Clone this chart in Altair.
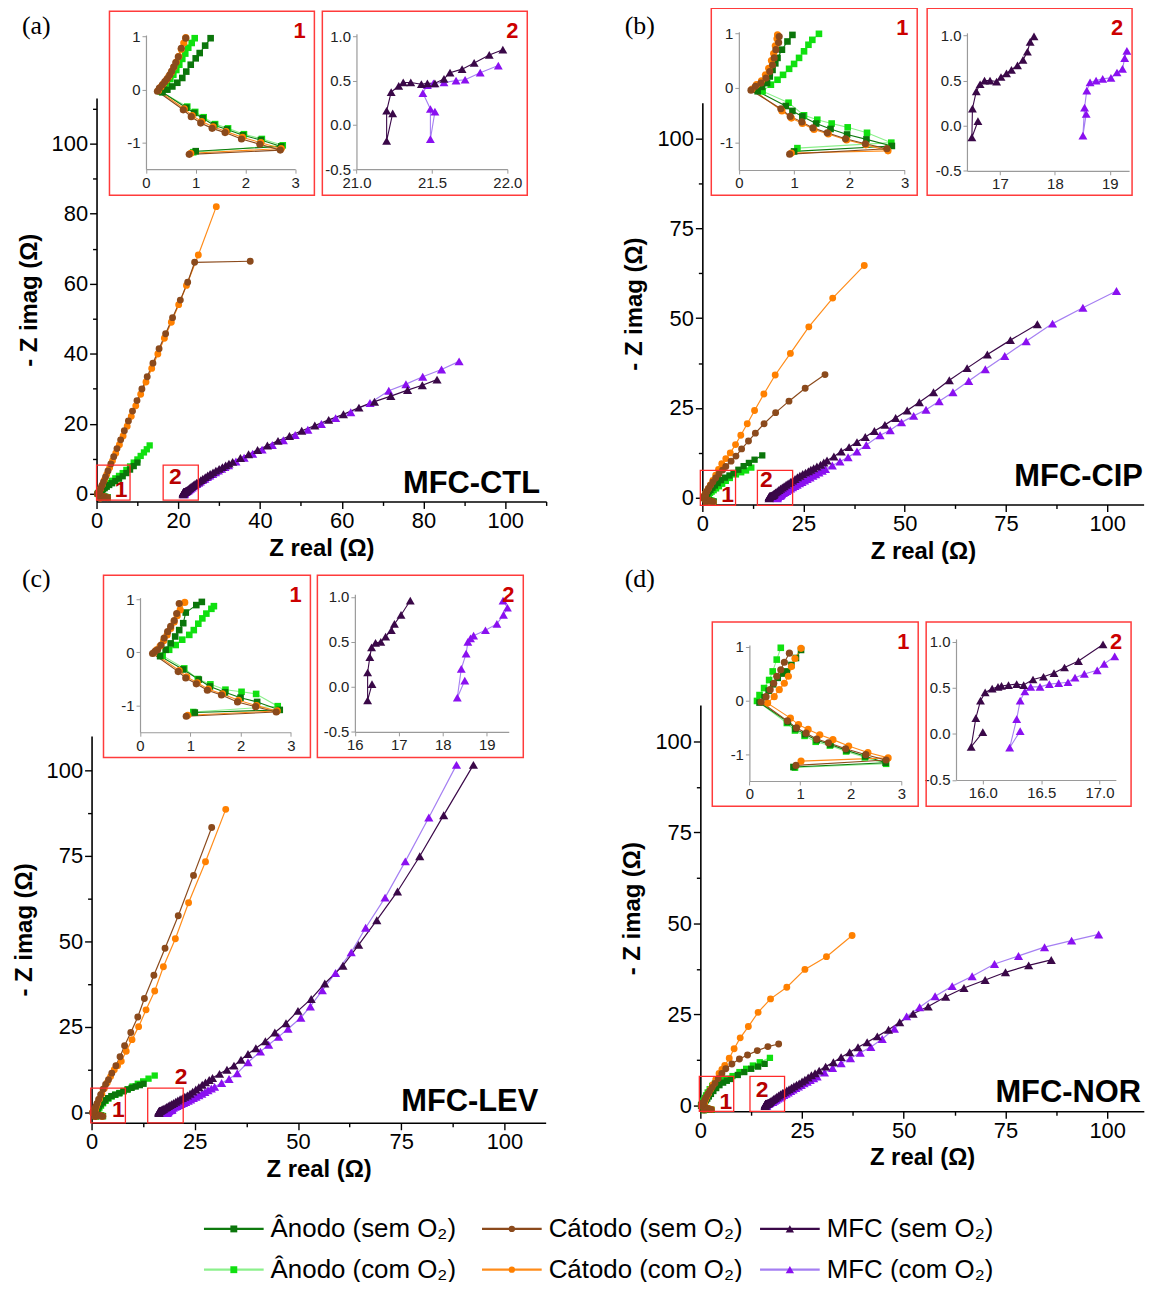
import altair as alt
import pandas as pd

M = 8
W, H = 1144, 1274

AN_SEM, AN_COM = "Ânodo (sem O₂)", "Ânodo (com O₂)"
CAT_SEM, CAT_COM = "Cátodo (sem O₂)", "Cátodo (com O₂)"
MFC_SEM, MFC_COM = "MFC (sem O₂)", "MFC (com O₂)"
SERIES = [AN_SEM, AN_COM, CAT_SEM, CAT_COM, MFC_SEM, MFC_COM]
LINE_COLORS = ["#0e7a0e", "#8cf08c", "#8b4a1c", "#ff8c1a", "#3a0848", "#a57ff2"]
MARK_COLORS = ["#0b760b", "#10e010", "#8b4a1c", "#ff8000", "#3a0848", "#8a10f0"]
SHAPES = ["square", "square", "circle", "circle", "triangle-up", "triangle-up"]
GROUPS = [[AN_SEM, AN_COM], [CAT_SEM, CAT_COM], [MFC_SEM, MFC_COM]]

# ---------------- panel (a) MFC-CTL ----------------
a_an_sem_in = [(1.0,-1.16),(2.72,-1.07),(2.31,-0.95),(1.95,-0.86),(1.63,-0.75),(1.37,-0.67),(1.14,-0.54),(0.97,-0.44),(0.81,-0.34),(0.33,-0.05),(0.43,0.0),(0.53,0.06),(0.63,0.13),(0.73,0.22),(0.81,0.34),(0.9,0.47),(1.0,0.59),(1.08,0.69),(1.19,0.83),(1.3,0.97)]
a_an_com_in = [(0.95,-1.18),(2.75,-1.05),(2.33,-0.93),(1.97,-0.84),(1.65,-0.73),(1.39,-0.65),(1.16,-0.52),(0.99,-0.42),(0.83,-0.32),(0.3,-0.04),(0.36,0.04),(0.42,0.12),(0.49,0.2),(0.55,0.28),(0.61,0.37),(0.67,0.47),(0.73,0.58),(0.79,0.68),(0.85,0.79),(0.92,0.88),(0.98,0.97)]
a_cat_sem_in = [(0.87,-1.22),(2.7,-1.14),(2.29,-1.03),(1.92,-0.93),(1.59,-0.81),(1.33,-0.73),(1.1,-0.63),(0.91,-0.51),(0.75,-0.38),(0.23,-0.03),(0.27,0.03),(0.33,0.09),(0.38,0.15),(0.43,0.21),(0.48,0.28),(0.52,0.35),(0.56,0.43),(0.6,0.51),(0.65,0.62),(0.71,0.78),(0.8,0.97)]
a_cat_com_in = [(0.9,-1.2),(2.72,-1.11),(2.31,-1.0),(1.94,-0.9),(1.61,-0.79),(1.35,-0.7),(1.12,-0.6),(0.93,-0.49),(0.77,-0.36),(0.25,-0.02),(0.3,0.05),(0.35,0.11),(0.41,0.18),(0.46,0.25),(0.51,0.33),(0.56,0.42),(0.61,0.52),(0.66,0.63),(0.71,0.76),(0.76,0.88),(0.8,0.98)]
a_mfc_sem_in = [(21.24,0.13),(21.2,-0.18),(21.2,0.16),(21.23,0.37),(21.28,0.44),(21.31,0.48),(21.36,0.48),(21.43,0.46),(21.47,0.47),(21.52,0.47),(21.58,0.52),(21.62,0.59),(21.7,0.63),(21.78,0.7),(21.88,0.79),(21.97,0.85)]
a_mfc_com_in = [(21.52,0.15),(21.49,-0.16),(21.49,0.18),(21.44,0.36),(21.47,0.45),(21.51,0.47),(21.58,0.48),(21.66,0.5),(21.72,0.51),(21.82,0.59),(21.94,0.67)]
a_an_sem = [(1.6,1.25),(2.0,1.6),(2.5,2.0),(3.1,2.5),(3.8,3.0),(4.6,3.6),(5.5,4.3),(6.4,5.0),(7.3,5.9),(8.2,6.9),(9.1,7.9),(10.0,8.9)]
a_an_com = [(1.1,1.1),(1.3,1.35),(1.6,1.7),(2.0,2.1),(2.5,2.6),(3.1,3.1),(3.8,3.7),(4.6,4.4),(5.5,5.1),(6.4,5.9),(7.3,6.8),(8.2,7.8),(9.1,8.9),(10.0,9.8),(10.8,10.8),(11.6,11.8),(12.3,12.7),(13.0,13.8)]
a_cat_sem = [(1.0,1.5),(1.3,2.3),(1.7,3.4),(2.2,4.8),(2.8,6.5),(3.5,8.5),(4.2,10.6),(5.0,12.9),(5.9,15.4),(6.8,18.0),(7.8,20.8),(8.8,23.6),(9.9,26.6),(11.1,29.9),(12.4,33.4),(13.8,37.3),(15.3,41.4),(16.9,45.7),(18.6,50.3),(20.5,55.3),(22.3,60.4),(24.0,66.1),(37.6,66.4)]
a_cat_com = [(1.0,1.4),(1.4,2.5),(1.9,3.9),(2.5,5.5),(3.2,7.4),(3.9,9.4),(4.7,11.6),(5.6,14.0),(6.5,16.5),(7.5,19.3),(8.5,22.1),(9.6,25.1),(10.8,28.4),(12.1,31.9),(13.5,35.8),(15.0,39.9),(16.6,44.4),(18.3,49.0),(20.1,54.0),(22.0,59.5),(24.9,68.2),(29.3,82.0)]
a_mfc_sem = [(22.1,0.95),(22.3,1.15),(22.55,1.4),(22.8,1.65),(23.1,1.95),(23.4,2.2),(23.75,2.5),(24.1,2.8),(24.5,3.15),(25.0,3.5),(25.5,3.9),(26.0,4.3),(26.6,4.75),(27.2,5.2),(27.8,5.65),(28.5,6.1),(29.2,6.6),(30.0,7.1),(30.8,7.6),(31.6,8.1),(32.4,8.6),(33.3,9.1),(35.2,10.2),(37.2,11.3),(39.4,12.5),(41.8,13.8),(44.4,15.1),(47.2,16.5),(50.2,18.0),(53.4,19.5),(56.8,21.1),(60.4,22.7),(64.2,24.6),(68.0,26.3),(72.0,27.9),(76.1,29.6),(79.7,31.0),(83.3,32.6)]
a_mfc_com = [(22.2,0.8),(22.5,1.0),(22.75,1.25),(23.0,1.5),(23.35,1.8),(23.7,2.1),(24.1,2.45),(24.5,2.8),(24.95,3.15),(25.4,3.5),(25.9,3.9),(26.5,4.3),(27.1,4.75),(27.7,5.2),(28.4,5.65),(29.1,6.1),(29.8,6.6),(30.6,7.1),(31.4,7.6),(32.3,8.1),(34.1,9.2),(36.1,10.3),(38.2,11.4),(40.5,12.6),(43.0,13.9),(45.7,15.3),(48.6,16.8),(51.7,18.3),(55.0,19.9),(58.5,21.6),(62.2,23.3),(66.9,25.9),(71.5,29.4),(75.7,31.3),(79.8,33.4),(84.4,35.5),(88.7,37.8)]

# ---------------- panel (b) MFC-CIP ----------------
b_cat_sem_in = [(0.92,-1.21),(2.68,-1.11),(2.29,-1.02),(1.93,-0.93),(1.6,-0.82),(1.34,-0.73),(1.14,-0.62),(0.93,-0.52),(0.76,-0.38),(0.22,-0.04),(0.3,0.03),(0.4,0.09),(0.49,0.18),(0.56,0.3),(0.61,0.42),(0.64,0.55),(0.67,0.7),(0.72,0.83),(0.73,0.94)]
b_cat_com_in = [(0.95,-1.19),(2.7,-1.15),(2.3,-1.04),(1.95,-0.95),(1.62,-0.84),(1.36,-0.76),(1.15,-0.65),(0.95,-0.55),(0.78,-0.42),(0.24,-0.02),(0.32,0.06),(0.41,0.13),(0.48,0.24),(0.54,0.36),(0.59,0.5),(0.63,0.63),(0.66,0.77),(0.69,0.9),(0.7,0.97)]
b_an_sem_in = [(1.0,-1.16),(2.77,-1.06),(2.31,-0.94),(1.96,-0.85),(1.66,-0.75),(1.4,-0.65),(1.15,-0.52),(0.97,-0.42),(0.85,-0.33),(0.34,-0.06),(0.42,0.02),(0.51,0.09),(0.56,0.21),(0.61,0.33),(0.66,0.45),(0.7,0.55),(0.78,0.7),(0.88,0.85),(0.97,0.97)]
b_an_com_in = [(1.06,-1.1),(2.76,-1.0),(2.32,-0.82),(1.97,-0.72),(1.68,-0.65),(1.42,-0.58),(1.18,-0.5),(0.9,-0.27),(0.43,-0.06),(0.58,0.06),(0.7,0.15),(0.8,0.24),(0.91,0.35),(1.0,0.44),(1.09,0.55),(1.18,0.67),(1.26,0.79),(1.33,0.88),(1.45,0.99)]
b_mfc_sem_in = [(16.6,0.05),(16.49,-0.13),(16.5,0.19),(16.57,0.38),(16.64,0.46),(16.72,0.5),(16.82,0.5),(16.94,0.49),(17.02,0.54),(17.12,0.58),(17.21,0.62),(17.32,0.67),(17.42,0.73),(17.5,0.82),(17.55,0.93),(17.62,0.99)]
b_mfc_com_in = [(18.57,0.13),(18.51,-0.11),(18.54,0.2),(18.58,0.39),(18.64,0.48),(18.75,0.5),(18.87,0.52),(19.02,0.53),(19.13,0.59),(19.23,0.63),(19.27,0.75),(19.31,0.83)]
b_an_sem = [(1.1,1.15),(1.3,1.4),(1.6,1.8),(2.0,2.2),(2.5,2.8),(3.1,3.4),(3.8,4.1),(4.6,4.9),(5.6,5.6),(6.7,6.2),(7.7,6.9),(8.9,7.8),(10.2,8.8),(11.5,9.7),(12.9,10.6),(14.8,11.8)]
b_an_com = [(1.6,1.1),(1.9,1.35),(2.3,1.7),(2.8,2.1),(3.4,2.6),(4.1,3.2),(4.9,3.9),(5.8,4.7),(6.8,5.5),(8.3,6.5),(9.6,7.1),(10.8,7.6),(12.1,8.4)]
b_cat_sem = [(0.8,1.1),(1.1,1.7),(1.5,2.5),(2.0,3.4),(2.6,4.4),(3.3,5.5),(4.1,6.6),(5.0,7.7),(5.8,8.7),(7.1,10.2),(8.3,11.6),(9.7,13.6),(11.4,15.8),(13.1,18.0),(15.25,20.6),(18.1,23.7),(21.4,26.9),(25.4,30.5),(30.3,34.3)]
b_cat_com = [(0.8,1.2),(1.1,1.8),(1.5,2.6),(2.0,3.6),(2.6,4.8),(3.3,6.3),(4.0,7.9),(4.8,9.5),(5.8,10.9),(6.9,12.5),(8.2,14.8),(9.5,17.4),(11.1,20.6),(12.9,24.3),(15.2,28.9),(18.0,34.2),(21.75,40.2),(26.3,47.6),(32.2,55.6),(40.0,64.7)]
b_mfc_sem = [(17.8,1.2),(18.1,1.5),(18.5,1.8),(18.9,2.15),(19.3,2.5),(19.75,2.85),(20.2,3.2),(20.7,3.6),(21.2,4.0),(21.75,4.4),(22.3,4.8),(22.9,5.25),(23.5,5.7),(24.1,6.15),(24.8,6.6),(25.5,7.0),(26.2,7.4),(26.8,7.8),(27.5,8.2),(28.3,8.7),(29.2,9.2),(30.0,9.8),(30.8,10.4),(32.5,11.5),(34.3,12.9),(36.25,14.1),(38.2,15.5),(40.25,16.9),(42.5,18.6),(45.1,20.3),(47.75,22.2),(50.6,24.3),(53.6,26.6),(57.1,29.4),(61.0,32.7),(65.4,36.1),(70.4,39.9),(76.1,43.9),(82.75,48.3)]
b_mfc_com = [(19.6,1.0),(20.0,1.3),(20.4,1.6),(20.85,1.9),(21.3,2.2),(21.8,2.55),(22.3,2.9),(22.85,3.25),(23.4,3.6),(24.0,4.0),(24.6,4.4),(25.25,4.8),(25.9,5.2),(26.6,5.65),(27.3,6.1),(28.0,6.55),(28.8,7.0),(29.6,7.5),(30.4,8.0),(32.1,9.0),(34.0,10.1),(36.0,11.3),(38.2,12.9),(40.5,14.7),(43.9,17.4),(46.4,18.8),(49.2,21.0),(52.2,22.8),(55.25,24.5),(58.5,26.9),(61.9,29.4),(65.8,32.5),(69.9,35.8),(74.7,39.5),(80.0,43.6),(86.5,48.5),(94.0,52.9),(102.3,57.6)]

# ---------------- panel (c) MFC-LEV ----------------
c_cat_sem_in = [(0.92,-1.2),(2.71,-1.12),(2.3,-1.02),(1.94,-0.93),(1.62,-0.8),(1.34,-0.71),(1.12,-0.59),(0.91,-0.48),(0.76,-0.36),(0.25,-0.02),(0.3,0.02),(0.35,0.05),(0.42,0.14),(0.48,0.27),(0.55,0.39),(0.61,0.49),(0.68,0.6),(0.73,0.73),(0.78,0.92)]
c_cat_com_in = [(0.95,-1.18),(2.73,-1.1),(2.32,-1.0),(1.96,-0.9),(1.64,-0.78),(1.36,-0.69),(1.14,-0.57),(0.93,-0.46),(0.78,-0.34),(0.27,-0.01),(0.33,0.05),(0.4,0.12),(0.47,0.22),(0.54,0.33),(0.61,0.45),(0.68,0.57),(0.74,0.69),(0.8,0.8),(0.89,0.94)]
c_an_sem_in = [(1.09,-1.13),(2.78,-1.08),(2.33,-0.93),(2.0,-0.85),(1.69,-0.75),(1.39,-0.64),(1.17,-0.51),(0.86,-0.32),(0.4,-0.07),(0.51,0.05),(0.61,0.17),(0.7,0.3),(0.78,0.42),(0.86,0.55),(0.91,0.75),(1.12,0.89),(1.23,0.95)]
c_an_com_in = [(1.06,-1.12),(2.74,-1.01),(2.31,-0.78),(2.02,-0.74),(1.7,-0.7),(1.4,-0.6),(1.15,-0.5),(0.88,-0.3),(0.45,-0.06),(0.58,0.05),(0.71,0.14),(0.84,0.24),(0.98,0.33),(1.07,0.42),(1.16,0.54),(1.24,0.64),(1.32,0.73),(1.42,0.82),(1.47,0.87)]
c_mfc_sem_in = [(16.39,0.03),(16.29,-0.15),(16.29,0.16),(16.34,0.33),(16.38,0.44),(16.47,0.49),(16.59,0.5),(16.7,0.56),(16.83,0.63),(16.9,0.7),(17.05,0.8),(17.26,0.96)]
c_mfc_com_in = [(18.5,0.07),(18.33,-0.12),(18.42,0.2),(18.53,0.37),(18.57,0.5),(18.63,0.54),(18.7,0.57),(18.97,0.63),(19.23,0.7),(19.38,0.8),(19.47,0.88),(19.37,0.96)]
c_an_sem = [(1.3,1.05),(1.5,1.3),(1.8,1.8),(2.2,2.4),(2.7,3.0),(3.3,3.6),(4.0,4.2),(4.8,4.8),(5.7,5.2),(6.7,5.6),(7.7,6.2),(8.7,6.7),(9.7,7.2),(10.7,7.6),(11.7,8.0),(12.6,8.4)]
c_an_com = [(1.6,1.0),(1.9,1.4),(2.3,2.0),(2.8,2.7),(3.4,3.4),(4.1,4.1),(4.9,4.7),(5.8,5.2),(6.8,5.7),(7.8,6.3),(8.8,6.8),(9.9,7.6),(11.2,8.4),(12.5,9.1),(13.8,9.9),(15.3,10.8)]
c_cat_sem = [(0.85,1.2),(1.0,1.7),(1.3,2.6),(1.7,3.8),(2.2,5.2),(2.8,6.8),(3.4,8.2),(4.1,9.6),(4.9,11.5),(5.9,13.7),(6.9,16.3),(8.0,19.5),(9.5,23.4),(11.2,27.9),(12.8,33.3),(15.1,40.1),(17.8,48.0),(21.0,57.5),(24.7,69.3),(29.1,83.3)]
c_cat_com = [(0.95,1.1),(1.15,1.7),(1.5,2.7),(1.9,3.9),(2.5,5.4),(3.1,7.0),(3.8,8.7),(4.6,10.5),(5.5,12.5),(6.3,13.7),(7.2,15.0),(8.4,17.9),(9.8,21.3),(11.4,25.1),(13.2,30.0),(15.3,35.5),(17.4,42.6),(20.3,50.8),(23.5,61.3),(27.6,73.3),(32.5,88.6)]
c_mfc_sem = [(17.5,1.1),(17.85,1.35),(18.2,1.6),(18.6,1.9),(19.0,2.2),(19.45,2.5),(19.9,2.8),(20.4,3.15),(20.9,3.5),(21.45,3.85),(22.0,4.2),(22.6,4.6),(23.2,5.0),(23.85,5.5),(24.5,6.1),(25.25,6.7),(26.0,7.4),(26.8,8.1),(27.6,8.8),(28.5,9.5),(29.3,10.1),(31.0,11.3),(32.8,12.5),(34.5,13.7),(36.2,15.4),(37.9,17.1),(39.8,18.8),(42.1,20.8),(44.4,23.4),(47.1,26.1),(50.0,29.7),(53.2,33.2),(56.5,37.7),(60.9,42.9),(64.7,49.0),(69.1,56.2),(74.1,64.6),(79.5,74.9),(85.3,86.9),(92.5,101.6)]
c_mfc_com = [(19.0,0.9),(19.4,1.15),(19.8,1.4),(20.25,1.65),(20.7,1.9),(21.2,2.2),(21.7,2.5),(22.25,2.8),(22.8,3.1),(23.4,3.45),(24.0,3.8),(24.65,4.2),(25.3,4.6),(26.0,5.05),(26.7,5.5),(27.45,6.0),(28.2,6.5),(29.0,7.0),(29.8,7.5),(31.5,8.6),(33.3,9.8),(35.3,11.5),(37.9,14.7),(40.9,17.8),(42.9,19.8),(45.3,22.1),(47.6,24.5),(50.7,27.7),(53.0,31.0),(55.9,35.7),(59.1,40.8),(62.9,46.8),(66.4,54.0),(71.1,62.8),(76.0,73.4),(81.7,86.2),(88.4,101.6)]

# ---------------- panel (d) MFC-NOR ----------------
d_cat_sem_in = [(0.92,-1.21),(2.7,-1.11),(2.3,-1.01),(1.9,-0.9),(1.56,-0.79),(1.33,-0.72),(1.12,-0.61),(0.93,-0.51),(0.75,-0.38),(0.23,-0.03),(0.33,0.07),(0.41,0.2),(0.48,0.32),(0.54,0.45),(0.62,0.57),(0.69,0.71),(0.79,0.88)]
d_cat_com_in = [(1.02,-1.13),(2.74,-1.07),(2.34,-0.97),(1.96,-0.85),(1.65,-0.73),(1.39,-0.64),(1.16,-0.54),(0.97,-0.45),(0.81,-0.33),(0.36,-0.05),(0.49,0.07),(0.59,0.2),(0.69,0.32),(0.77,0.45),(0.83,0.63),(0.9,0.78),(1.02,0.97)]
d_an_sem_in = [(0.87,-1.24),(2.69,-1.16),(2.29,-1.04),(1.92,-0.93),(1.6,-0.82),(1.33,-0.74),(1.1,-0.63),(0.91,-0.53),(0.76,-0.4),(0.2,-0.04),(0.3,0.06),(0.38,0.18),(0.47,0.3),(0.56,0.42),(0.66,0.5),(0.74,0.54),(0.83,0.66),(0.92,0.79),(1.02,0.94)]
d_an_com_in = [(0.9,-1.25),(2.7,-1.18),(2.28,-1.06),(1.91,-0.95),(1.59,-0.84),(1.31,-0.77),(1.09,-0.66),(0.9,-0.56),(0.74,-0.42),(0.15,-0.01),(0.2,0.1),(0.29,0.23),(0.39,0.38),(0.46,0.54),(0.54,0.76),(0.62,0.98)]
d_mfc_sem_in = [(16.0,0.02),(15.9,-0.14),(15.94,0.17),(15.98,0.36),(16.02,0.45),(16.08,0.49),(16.13,0.51),(16.16,0.52),(16.22,0.53),(16.29,0.54),(16.35,0.53),(16.43,0.59),(16.52,0.62),(16.61,0.66),(16.7,0.72),(16.82,0.79),(17.03,0.97)]
d_mfc_com_in = [(16.32,0.03),(16.23,-0.15),(16.29,0.16),(16.32,0.36),(16.36,0.46),(16.41,0.51),(16.49,0.51),(16.57,0.54),(16.65,0.55),(16.73,0.56),(16.79,0.61),(16.87,0.65),(16.98,0.69),(17.04,0.76),(17.13,0.84)]
d_an_sem = [(1.15,1.1),(1.4,1.45),(1.7,1.9),(2.1,2.5),(2.6,3.2),(3.2,4.0),(3.9,4.8),(4.7,5.6),(5.6,6.3),(6.5,6.8),(7.5,7.3),(9.2,8.4),(10.8,9.2),(12.5,10.1),(14.2,10.7),(15.8,11.45)]
d_an_com = [(0.7,1.1),(0.85,1.5),(1.1,2.1),(1.4,2.8),(1.8,3.6),(2.3,4.5),(2.9,5.4),(3.6,6.1),(4.5,6.6),(5.5,7.0),(6.6,7.4),(7.9,8.1),(9.6,9.2),(11.25,10.1),(12.9,11.0),(14.6,11.9),(17.1,13.1)]
d_cat_sem = [(0.9,1.1),(1.1,1.6),(1.4,2.3),(1.8,3.1),(2.3,4.0),(2.9,5.0),(3.6,6.1),(4.4,7.4),(5.3,8.8),(6.25,10.1),(7.75,11.4),(9.6,12.8),(11.6,13.9),(14.0,15.1),(16.6,16.2),(19.25,16.9)]
d_cat_com = [(1.1,1.2),(1.3,1.7),(1.6,2.4),(2.0,3.3),(2.5,4.4),(3.1,5.7),(3.8,7.2),(4.6,8.8),(5.3,9.9),(6.0,11.0),(7.1,13.0),(8.3,15.6),(9.8,18.6),(11.8,21.7),(14.2,25.6),(17.25,29.3),(21.25,32.5),(25.7,37.4),(31.0,40.9),(37.3,46.7)]
d_mfc_sem = [(17.3,1.2),(17.65,1.5),(18.0,1.8),(18.4,2.1),(18.8,2.4),(19.25,2.75),(19.7,3.1),(20.2,3.45),(20.7,3.8),(21.25,4.15),(21.8,4.5),(22.4,4.9),(23.0,5.3),(23.65,5.7),(24.3,6.1),(25.0,6.6),(25.7,7.1),(26.5,7.7),(27.3,8.3),(28.2,8.9),(29.2,9.6),(30.8,10.7),(32.7,11.9),(34.6,13.3),(36.7,14.65),(38.75,16.0),(41.0,17.4),(43.5,19.0),(46.25,20.8),(49.0,22.9),(52.3,25.2),(56.0,27.2),(60.3,29.9),(64.8,32.3),(70.0,34.5),(75.0,36.6),(80.7,38.5),(86.25,40.0)]
d_mfc_com = [(17.8,1.0),(18.2,1.3),(18.6,1.6),(19.05,1.9),(19.5,2.2),(20.0,2.55),(20.5,2.9),(21.05,3.25),(21.6,3.6),(22.2,4.0),(22.8,4.4),(23.45,4.8),(24.1,5.2),(24.8,5.65),(25.5,6.1),(26.25,6.55),(27.0,7.0),(27.85,7.5),(28.7,8.0),(30.5,9.1),(32.5,10.3),(34.6,11.6),(36.9,13.0),(39.3,14.5),(41.9,16.1),(44.7,18.3),(47.7,21.1),(50.7,24.5),(53.9,27.0),(57.7,30.0),(61.9,32.8),(66.8,35.5),(72.3,38.9),(78.2,41.1),(84.6,43.5),(91.25,45.3),(97.9,47.0)]

# zoom boxes drawn in the main plots (data units) and their labels
a_boxes = [(0, 8.2, -1.8, 8.2), (16.3, 24.9, -1.8, 8.2)]
a_box_labels = [("1", 6.0, 1.1), ("2", 19.3, 4.9)]
b_boxes = [(-0.5, 8.2, -2.1, 7.6), (13.6, 22.3, -2.1, 7.6)]
b_box_labels = [("1", 6.25, 0.65), ("2", 15.8, 4.8)]
c_boxes = [(-0.2, 8.2, -3.0, 7.1), (13.6, 22.2, -3.0, 7.1)]
c_box_labels = [("1", 6.5, 0.7), ("2", 21.7, 10.5)]
d_boxes = [(-0.25, 8.2, -1.6, 8.0), (12.2, 20.7, -1.6, 8.0)]
d_box_labels = [("1", 6.25, 0.9), ("2", 15.2, 4.3)]

# ---------------- layout (page pixels) ----------------
GEOM = {
    "a": {"main": {"x": [0, 110], "xpx": [97, 549], "y": [-2.2, 113], "ypx": [500.7, 95.2], "step": 20},
          "in1": {"x": [0, 3], "xpx": [146.7, 296.7], "y": [-1.5, 1.03], "ypx": [166.7, 31.8]},
          "in2": {"x": [21.0, 22.0], "xpx": [358.3, 510], "y": [-0.5, 1.03], "ypx": [166.7, 30.5],
                  "vals": [21.0, 21.5, 22.0], "fmt": ".1f"},
          "frames": [[110, 8, 316, 193], [324, 8, 530, 193]], "letter": "(a)", "lpos": [22, 31],
          "tag": "MFC-CTL", "tagpos": [108.5, 0.3]},
    "b": {"main": {"x": [0, 109], "xpx": [706, 1149.6], "y": [-1.86, 110], "ypx": [503.7, 99.9], "step": 25},
          "in1": {"x": [0, 3], "xpx": [742.7, 909.3], "y": [-1.5, 1.03], "ypx": [167.5, 28.4]},
          "in2": {"x": [16.4, 19.35], "xpx": [972, 1135], "y": [-0.5, 1.03], "ypx": [168.3, 29.6],
                  "vals": [17, 18, 19], "fmt": "d"},
          "frames": [[715, 5, 922, 193], [932, 5, 1138, 193]], "letter": "(b)", "lpos": [628, 31],
          "tag": "MFC-CIP", "tagpos": [108.8, 3.2]},
    "c": {"main": {"x": [0, 110], "xpx": [92, 548.5], "y": [-3, 110], "ypx": [1125.3, 736.6], "step": 25},
          "in1": {"x": [0, 3], "xpx": [140.7, 292.3], "y": [-1.5, 1.03], "ypx": [732.7, 597.4]},
          "in2": {"x": [16, 19.5], "xpx": [356.7, 511.4], "y": [-0.5, 1.03], "ypx": [732.3, 594.0],
                  "vals": [16, 17, 18, 19], "fmt": "d"},
          "frames": [[104, 575, 312, 758], [319, 575, 526, 758]], "letter": "(c)", "lpos": [22, 587],
          "tag": "MFC-LEV", "tagpos": [108.2, 0.3]},
    "d": {"main": {"x": [0, 109], "xpx": [704, 1149.8], "y": [-1.56, 110], "ypx": [1113.7, 705.4], "step": 25},
          "in1": {"x": [0, 3], "xpx": [753.3, 906], "y": [-1.5, 1.03], "ypx": [781.7, 645.1]},
          "in2": {"x": [15.77, 17.14], "xpx": [961, 1121.7], "y": [-0.5, 1.03], "ypx": [780.7, 638.9],
                  "vals": [16.0, 16.5, 17.0], "fmt": ".1f"},
          "frames": [[716, 622, 923, 807], [931, 622, 1137, 807]], "letter": "(d)", "lpos": [628, 587],
          "tag": "MFC-NOR", "tagpos": [108.3, 0.9]},
}

DATA = {
    "a": dict(in1=[(AN_COM, a_an_com_in), (AN_SEM, a_an_sem_in), (CAT_COM, a_cat_com_in), (CAT_SEM, a_cat_sem_in)],
              in2=[(MFC_COM, a_mfc_com_in), (MFC_SEM, a_mfc_sem_in)],
              main=[(AN_COM, a_an_com_in + a_an_com), (AN_SEM, a_an_sem_in + a_an_sem),
                    (CAT_COM, a_cat_com_in + a_cat_com), (CAT_SEM, a_cat_sem_in + a_cat_sem),
                    (MFC_COM, a_mfc_com_in + a_mfc_com), (MFC_SEM, a_mfc_sem_in + a_mfc_sem)],
              boxes=a_boxes, labels=a_box_labels),
    "b": dict(in1=[(AN_COM, b_an_com_in), (AN_SEM, b_an_sem_in), (CAT_COM, b_cat_com_in), (CAT_SEM, b_cat_sem_in)],
              in2=[(MFC_COM, b_mfc_com_in), (MFC_SEM, b_mfc_sem_in)],
              main=[(AN_COM, b_an_com_in + b_an_com), (AN_SEM, b_an_sem_in + b_an_sem),
                    (CAT_COM, b_cat_com_in + b_cat_com), (CAT_SEM, b_cat_sem_in + b_cat_sem),
                    (MFC_COM, b_mfc_com_in + b_mfc_com), (MFC_SEM, b_mfc_sem_in + b_mfc_sem)],
              boxes=b_boxes, labels=b_box_labels),
    "c": dict(in1=[(AN_COM, c_an_com_in), (AN_SEM, c_an_sem_in), (CAT_COM, c_cat_com_in), (CAT_SEM, c_cat_sem_in)],
              in2=[(MFC_COM, c_mfc_com_in), (MFC_SEM, c_mfc_sem_in)],
              main=[(AN_COM, c_an_com_in + c_an_com), (AN_SEM, c_an_sem_in + c_an_sem),
                    (CAT_COM, c_cat_com_in + c_cat_com), (CAT_SEM, c_cat_sem_in + c_cat_sem),
                    (MFC_COM, c_mfc_com_in + c_mfc_com), (MFC_SEM, c_mfc_sem_in + c_mfc_sem)],
              boxes=c_boxes, labels=c_box_labels),
    "d": dict(in1=[(AN_COM, d_an_com_in), (AN_SEM, d_an_sem_in), (CAT_COM, d_cat_com_in), (CAT_SEM, d_cat_sem_in)],
              in2=[(MFC_COM, d_mfc_com_in), (MFC_SEM, d_mfc_sem_in)],
              main=[(AN_COM, d_an_com_in + d_an_com), (AN_SEM, d_an_sem_in + d_an_sem),
                    (CAT_COM, d_cat_com_in + d_cat_com), (CAT_SEM, d_cat_sem_in + d_cat_sem),
                    (MFC_COM, d_mfc_com_in + d_mfc_com), (MFC_SEM, d_mfc_sem_in + d_mfc_sem)],
              boxes=d_boxes, labels=d_box_labels),
}

FONT = "Liberation Sans"
stroke_scale = alt.Scale(domain=SERIES, range=LINE_COLORS)
fill_scale = alt.Scale(domain=SERIES, range=MARK_COLORS)
shape_scale = alt.Scale(domain=SERIES, range=SHAPES)

# marker sizes (area, px^2) per marker group: squares, circles, triangles
MAIN_SIZES = [40, 48, 85]
INSET_SIZES = [44, 52, 80]
LEGEND_SIZES = [48, 40, 70]


def to_df(parts):
    rows = []
    for s, pts in parts:
        for i, (x, y) in enumerate(pts):
            rows.append({"s": s, "x": x, "y": y, "i": i})
    return pd.DataFrame(rows)


def scales(g):
    xs = alt.Scale(domain=g["x"], range=[g["xpx"][0] - M, g["xpx"][1] - M], nice=False, zero=False)
    ys = alt.Scale(domain=g["y"], range=[g["ypx"][0] - M, g["ypx"][1] - M], nice=False, zero=False)
    return xs, ys


def point_layers(base, X, Y, sizes):
    out = []
    for grp, sz in zip(GROUPS, sizes):
        out.append(base.transform_filter(alt.FieldOneOfPredicate(field="s", oneOf=grp))
                   .mark_point(filled=True, opacity=1, size=sz).encode(
            x=X, y=Y,
            fill=alt.Fill("s:N", scale=fill_scale, legend=None),
            shape=alt.Shape("s:N", scale=shape_scale, legend=None)))
    return out


def series_layers(df, X, Y, sw, sizes):
    base = alt.Chart(df)
    lines = base.mark_line(strokeWidth=sw).encode(
        x=X, y=Y, order="i:Q", detail="s:N",
        stroke=alt.Stroke("s:N", scale=stroke_scale, legend=None))
    return [lines] + point_layers(base, X, Y, sizes)


def main_plot(key):
    g = GEOM[key]["main"]
    d = DATA[key]
    xs, ys = scales(g)
    step = g["step"]
    half = step / 2
    xvals = [v * half for v in range(int(g["x"][1] // half) + 1)]
    yvals = [v * half for v in range(int(g["y"][1] // half) + 1)]
    common = dict(labelFont=FONT, labelFontSize=22, labelColor="black", titleFont=FONT,
                  titleFontSize=24, titleFontWeight="bold", titleColor="black",
                  domainColor="black", domainWidth=1.6, tickColor="black", tickWidth=1.4,
                  labelFlush=False, labelOverlap=False, grid=False,
                  labelExpr=f"datum.value % {step} === 0 ? datum.label : ''",
                  tickSize={"condition": {"test": f"datum.value % {step} === 0", "value": 7}, "value": 4})
    xa = alt.Axis(orient="bottom", offset=(g["ypx"][0] - M) - H, values=xvals,
                  title="Z real (Ω)", titlePadding=5, **common)
    ya = alt.Axis(orient="left", offset=-(g["xpx"][0] - M), values=yvals,
                  title="- Z imag (Ω)", titlePadding=10, **common)
    X = alt.X("x:Q", scale=xs, axis=xa)
    Y = alt.Y("y:Q", scale=ys, axis=ya)
    layers = series_layers(to_df(d["main"]), X, Y, 1.2, MAIN_SIZES)

    bdf = pd.DataFrame(d["boxes"], columns=["x0", "x1", "y0", "y1"])
    boxes = alt.Chart(bdf).mark_rect(fillOpacity=0, stroke="#ff2a2a", strokeWidth=1.3).encode(
        x=alt.X("x0:Q", scale=xs, axis=xa), x2="x1:Q",
        y=alt.Y("y0:Q", scale=ys, axis=ya), y2="y1:Q")
    ldf = pd.DataFrame(d["labels"], columns=["t", "x", "y"])
    labs = alt.Chart(ldf).mark_text(font=FONT, fontSize=23, fontWeight="bold", color="#b80000",
                                    align="center", baseline="middle").encode(
        x=alt.X("x:Q", scale=xs, axis=xa), y=alt.Y("y:Q", scale=ys, axis=ya), text="t:N")
    tdf = pd.DataFrame({"t": [GEOM[key]["tag"]], "x": [GEOM[key]["tagpos"][0]], "y": [GEOM[key]["tagpos"][1]]})
    tag = alt.Chart(tdf).mark_text(font=FONT, fontSize=31, fontWeight="bold", color="black",
                                   align="right", baseline="alphabetic").encode(
        x=alt.X("x:Q", scale=xs, axis=xa), y=alt.Y("y:Q", scale=ys, axis=ya), text="t:N")
    return alt.layer(*layers, boxes, labs, tag)


def inset_plot(key, which):
    g = GEOM[key][which]
    d = DATA[key][which]
    xs, ys = scales(g)
    common = dict(labelFont=FONT, labelFontSize=15, labelColor="#222222", domainColor="#9a9a9a",
                  domainWidth=1.2, tickColor="#9a9a9a", tickSize=4, labelPadding=2,
                  labelFlush=False, labelOverlap=False, grid=False, title=None)
    if which == "in1":
        xa = alt.Axis(orient="bottom", offset=(g["ypx"][0] - M) - H, values=[0, 1, 2, 3], format="d", **common)
        ya = alt.Axis(orient="left", offset=-(g["xpx"][0] - M), values=[-1, 0, 1], format="d",
                      labelExpr="replace(datum.label, '\u2212', '-')", **common)
    else:
        xa = alt.Axis(orient="bottom", offset=(g["ypx"][0] - M) - H, values=g["vals"], format=g["fmt"], **common)
        ya = alt.Axis(orient="left", offset=-(g["xpx"][0] - M), values=[-0.5, 0, 0.5, 1.0], format=".1f",
                      labelExpr="replace(datum.label, '\u2212', '-')", **common)
    X = alt.X("x:Q", scale=xs, axis=xa)
    Y = alt.Y("y:Q", scale=ys, axis=ya)
    return alt.layer(*series_layers(to_df(d), X, Y, 1.1, INSET_SIZES))


layers = []
for key in ["a", "b", "c", "d"]:
    layers.append(main_plot(key))
    layers.append(inset_plot(key, "in1"))
    layers.append(inset_plot(key, "in2"))

# inset frames, their numbers and panel letters (page layout)
frame_rows, num_rows, letter_rows = [], [], []
for key in ["a", "b", "c", "d"]:
    for n, (x0, y0, x1, y1) in enumerate(GEOM[key]["frames"]):
        frame_rows.append({"x0": x0 - M, "x1": x1 - M, "y0": y0 - M, "y1": y1 - M})
        num_rows.append({"t": str(n + 1), "x": x1 - M - 15, "y": y0 - M + 20})
    lx, ly = GEOM[key]["lpos"]
    letter_rows.append({"t": GEOM[key]["letter"], "x": lx - M, "y": ly - M})

frames = alt.Chart(pd.DataFrame(frame_rows)).mark_rect(fillOpacity=0, stroke="#ff3b3b", strokeWidth=1.5).encode(
    x=alt.X("x0:Q", scale=None, axis=None), x2="x1:Q",
    y=alt.Y("y0:Q", scale=None, axis=None), y2="y1:Q")
nums = alt.Chart(pd.DataFrame(num_rows)).mark_text(font=FONT, fontSize=22, fontWeight="bold", color="#cc0000",
                                                   align="center", baseline="middle").encode(
    x=alt.X("x:Q", scale=None, axis=None), y=alt.Y("y:Q", scale=None, axis=None), text="t:N")
letters = alt.Chart(pd.DataFrame(letter_rows)).mark_text(font="Liberation Serif", fontSize=26, color="black",
                                                         align="left", baseline="alphabetic").encode(
    x=alt.X("x:Q", scale=None, axis=None), y=alt.Y("y:Q", scale=None, axis=None), text="t:N")

# legend
leg_df = pd.DataFrame({"s": SERIES, "col": [0, 0, 1, 1, 2, 2], "row": [0, 1, 0, 1, 0, 1]})
lxs = alt.Scale(domain=[0, 2], range=[235 - M, 794 - M], nice=False, zero=False)
lys = alt.Scale(domain=[0, 1], range=[1232 - M, 1273 - M], nice=False, zero=False)
LX = alt.X("col:Q", scale=lxs, axis=None)
LY = alt.Y("row:Q", scale=lys, axis=None)
leg_base = alt.Chart(leg_df)
leg_line = leg_base.mark_rule(strokeWidth=2.2, xOffset=-30, x2Offset=30).encode(
    x=LX, x2="col:Q", y=LY, stroke=alt.Stroke("s:N", scale=stroke_scale, legend=None))
leg_pts = point_layers(leg_base, LX, LY, LEGEND_SIZES)
leg_txt = leg_base.mark_text(font=FONT, fontSize=26, align="left", baseline="middle", dx=37, color="black").encode(
    x=LX, y=LY, text="s:N")
legend = alt.layer(leg_line, *leg_pts, leg_txt)

chart = alt.layer(*layers, frames, nums, letters, legend).resolve_scale(
    x="independent", y="independent"
).properties(
    width=W, height=H, autosize=alt.AutoSizeParams(type="none"), padding=0
).configure(font=FONT).configure_view(stroke=None)

chart.save("out.html", embed_options={"renderer": "svg", "actions": False})
